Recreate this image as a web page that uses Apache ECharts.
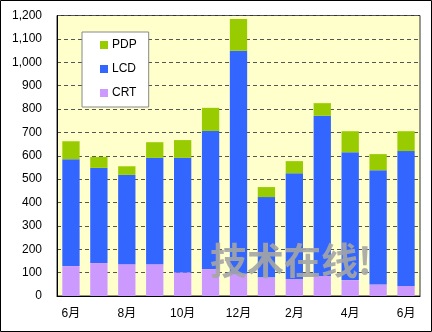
<!DOCTYPE html>
<html><head><meta charset="utf-8">
<script src="https://cdn.jsdelivr.net/npm/echarts@6/dist/echarts.min.js"></script>
<style>html,body{margin:0;padding:0;background:#fff}#c{width:432px;height:332px}</style>
</head><body><div id="c"></div>
<script>
var categories = ['6月','7月','8月','9月','10月','11月','12月','1月','2月','3月','4月','5月','6月'];
var crt = [128,141,136,136,101,115,95,80,73,86,68,49,43];
var lcd = [457,407,382,455,490,591,954,343,452,685,547,489,577];
var pdp = [77,47,37,67,76,99,136,43,52,54,90,69,85];
var yTicks = [0,100,200,300,400,500,600,700,800,900,1000,1100,1200];

var font = 'Liberation Sans, Arial, Noto Sans CJK JP, sans-serif';
var chart = echarts.init(document.getElementById('c'));
chart.setOption({
  animation: false,
  backgroundColor: '#fff',
  textStyle: {fontFamily: font},
  grid: {left: 57, right: 12, top: 15.5, bottom: 36, show: true, backgroundColor: '#ffffcc', borderColor: '#333', borderWidth: 1},
  legend: {
    orient: 'vertical', left: 82, top: 32,
    data: ['PDP','LCD','CRT'],
    icon: 'rect', itemWidth: 8, itemHeight: 8, itemGap: 10,
    backgroundColor: '#fff', borderColor: '#888', borderWidth: 1,
    padding: [6, 12, 7, 18],
    textStyle: {fontSize: 12, color: '#000', fontFamily: font, lineHeight: 14, padding: [0,0,0,-1]}
  },
  xAxis: {
    type: 'category', data: categories,
    axisLine: {lineStyle: {color: '#000'}},
    axisTick: {show: false},
    axisLabel: {interval: 1, color: '#000', fontSize: 12, margin: 12, fontFamily: font}
  },
  yAxis: {
    type: 'value', min: yTicks[0], max: yTicks[yTicks.length-1], interval: 100,
    axisLine: {show: true, lineStyle: {color: '#000'}},
    axisTick: {show: false},
    axisLabel: {color: '#000', fontSize: 12, margin: 15, fontFamily: font,
      formatter: function(v){ return v.toLocaleString('en-US'); }},
    splitLine: {show: true, lineStyle: {color: '#555', type: [4,3], width: 1}}
  },
  series: [
    {name: 'CRT', type: 'bar', stack: 's', data: crt, barWidth: '62%', itemStyle: {color: '#cc99ff'}},
    {name: 'LCD', type: 'bar', stack: 's', data: lcd, itemStyle: {color: '#3366ff'}},
    {name: 'PDP', type: 'bar', stack: 's', data: pdp, itemStyle: {color: '#99cc00'}}
  ],
  graphic: [
    {type: 'text', left: 210, top: 242, z: 100, silent: true,
      style: {text: '技术在线!', fill: 'rgba(165,165,165,0.9)', font: 'bold 37px "Noto Sans CJK SC", sans-serif'}},
    {type: 'rect', shape: {x: 0.5, y: 0.5, width: 431, height: 331}, style: {fill: 'none', stroke: '#000', lineWidth: 1}, z: 100}
  ]
});
</script></body></html>
